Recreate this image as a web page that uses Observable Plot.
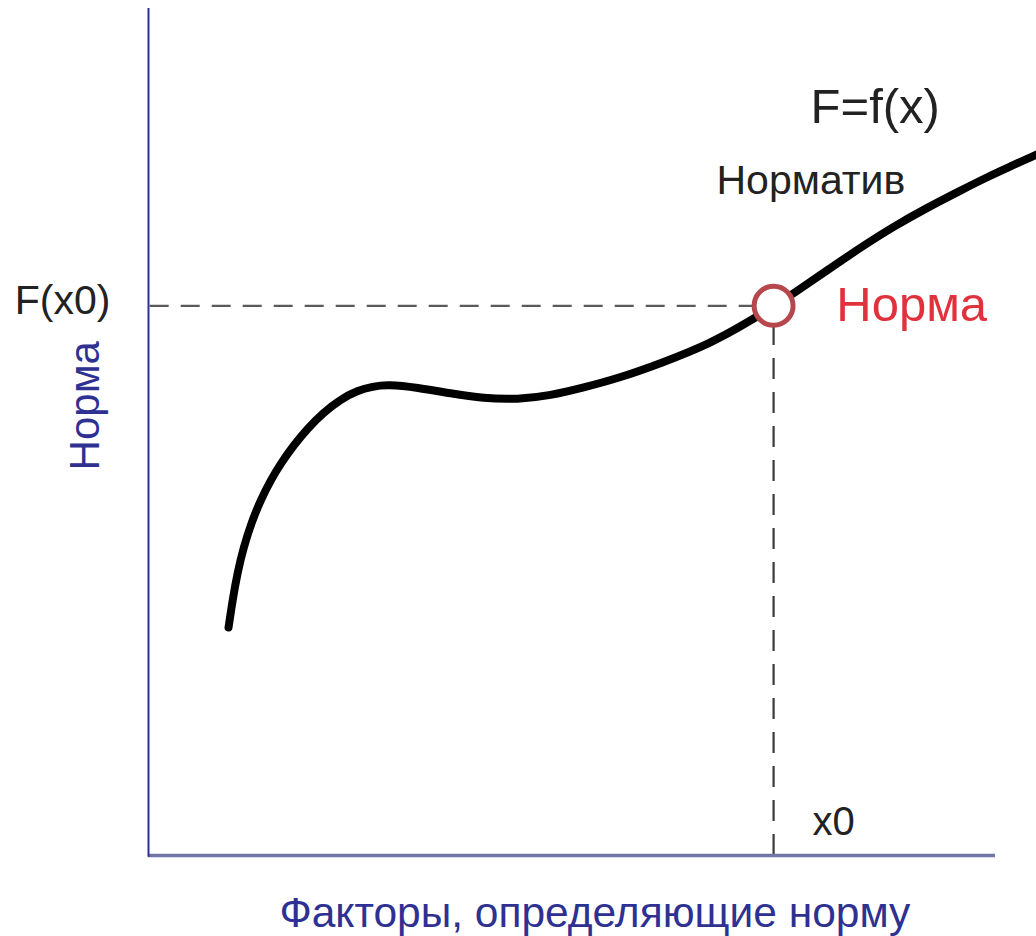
<!DOCTYPE html>
<html>
<head>
<meta charset="utf-8">
<script src="https://cdn.jsdelivr.net/npm/d3@7"></script>
<script src="https://cdn.jsdelivr.net/npm/@observablehq/plot@0.6"></script>
<style>
  html, body { margin: 0; padding: 0; background: #fff; }
  svg { display: block; }
</style>
</head>
<body>
<div id="chart"></div>
<script>
// Curve F = f(x) (x: factors 0..100, y: norm 0..100)
const curveX = [9.45, 9.92, 10.51, 11.22, 12.16, 13.22, 14.4, 15.7, 17.12, 18.77, 20.66, 22.67, 24.68, 26.45, 28.22, 31.76, 35.66, 39.55, 43.57, 47.46, 51.36, 55.37, 60.45, 66.35, 70.72, 73.79, 76.15, 79.93, 84.06, 87.96, 91.97, 95.87, 99.41, 101.77, 104.84];
const curveY = [26.92, 30.11, 33.41, 36.36, 39.32, 41.91, 44.27, 46.4, 48.41, 50.41, 52.3, 53.84, 54.9, 55.37, 55.61, 55.25, 54.55, 53.96, 53.84, 54.31, 55.25, 56.32, 58.09, 60.45, 62.93, 64.82, 66.35, 68.95, 71.78, 74.26, 76.5, 78.51, 80.28, 81.35, 82.76];

// Norm point
const normX = [73.8];
const normY = [64.9];

// Axis extents
const axisMax = [100];

// Labels
const labels = {
  func: "F=f(x)",
  normative: "Норматив",
  norm: "Норма",
  fx0: "F(x0)",
  x0: "x0",
  yTitle: "Норма",
  xTitle: "Факторы, определяющие норму"
};

const curve = curveX.map((x, i) => ({x, y: curveY[i]}));
const nx = normX[0], ny = normY[0];

const blue = "#2e3192";
const dark = "#222222";

const chart = Plot.plot({
  width: 1036,
  height: 936,
  margin: 0,
  style: {background: "#fff", fontFamily: "'Liberation Sans', Arial, sans-serif"},
  x: {domain: [0, 100], range: [148, 995], axis: null},
  y: {domain: [0, 100], range: [855, 8], axis: null},
  marks: [
    // dashed guides
    Plot.ruleY([ny], {x1: 0.2, x2: nx, stroke: "#5a5a5a", strokeWidth: 2.2, strokeDasharray: "19,12"}),
    Plot.ruleX([nx], {y1: 0, y2: ny, stroke: "#3a3a3a", strokeWidth: 2.2, strokeDasharray: "21,13"}),
    // axes
    Plot.ruleY([0], {x1: 0, x2: axisMax[0], stroke: "#7275a8", strokeWidth: 3.5}),
    Plot.ruleX([0], {y1: -0.2, y2: axisMax[0], stroke: blue, strokeWidth: 2}),
    // curve
    Plot.line(curve, {x: "x", y: "y", curve: "basis", stroke: "#000", strokeWidth: 8, strokeLinecap: "round", strokeLinejoin: "round"}),
    // norm marker
    Plot.dot([{x: nx, y: ny}], {x: "x", y: "y", r: 19.5, fill: "#fff", stroke: "#b5474d", strokeWidth: 5}),
    // texts
    Plot.text([labels.func], {x: 85.8, y: 88.3, text: d => d, fontSize: 49, fill: dark, textAnchor: "middle"}),
    Plot.text([labels.normative], {x: 78.2, y: 79.6, text: d => d, fontSize: 41, fill: dark, textAnchor: "middle"}),
    Plot.text([labels.norm], {x: 81.2, y: 64.9, text: d => d, fontSize: 49, fill: "#e0313c", textAnchor: "start"}),
    Plot.text([labels.fx0], {x: -4.5, y: 65.5, text: d => d, fontSize: 41, fill: dark, textAnchor: "end"}),
    Plot.text([labels.x0], {x: 78.4, y: 3.9, text: d => d, fontSize: 40, fill: dark, textAnchor: "start"}),
    Plot.text([labels.yTitle], {x: -7.44, y: 53.1, text: d => d, fontSize: 42, fill: blue, rotate: -90, textAnchor: "middle"}),
    Plot.text([labels.xTitle], {x: 52.7, y: -6.85, text: d => d, fontSize: 42.5, fill: blue, textAnchor: "middle"})
  ]
});

document.getElementById("chart").appendChild(chart);
</script>
</body>
</html>
